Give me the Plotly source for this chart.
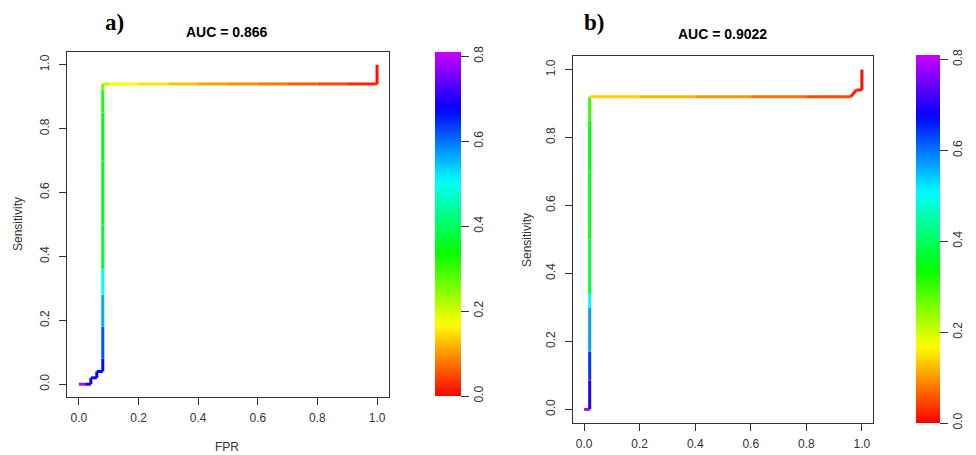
import colorsys
import plotly.graph_objects as go

# ---------------- data ----------------
# panel a) ROC curve: false positive rate, sensitivity, cutoff (colour)
fpr_a = [0.00, 0.02, 0.04, 0.04, 0.06, 0.06, 0.08, 0.08, 0.08, 0.08, 0.08, 0.08, 0.08, 0.08,
         0.08, 0.08, 0.10, 0.20, 0.30, 0.40, 0.50, 0.60, 0.70, 0.80, 0.90, 1.00, 1.00]
tpr_a = [0.00, 0.00, 0.00, 0.02, 0.02, 0.04, 0.04, 0.08, 0.18, 0.28, 0.36, 0.50, 0.70, 0.85,
         0.92, 0.94, 0.94, 0.94, 0.94, 0.94, 0.94, 0.94, 0.94, 0.94, 0.94, 0.94, 1.00]
cut_a = [0.80, 0.70, 0.69, 0.69, 0.68, 0.68, 0.67, 0.62, 0.56, 0.50, 0.37, 0.35, 0.34, 0.32,
         0.26, 0.22, 0.17, 0.15, 0.13, 0.11, 0.095, 0.08, 0.06, 0.045, 0.025, 0.01, 0.00]

# panel b) ROC curve
fpr_b = [0.00, 0.02, 0.02, 0.02, 0.02, 0.02, 0.02, 0.02, 0.02, 0.02, 0.20, 0.40, 0.60, 0.80,
         0.96, 0.98, 1.00, 1.00]
tpr_b = [0.00, 0.00, 0.085, 0.17, 0.30, 0.34, 0.50, 0.70, 0.85, 0.92, 0.92, 0.92, 0.92, 0.92,
         0.92, 0.94, 0.94, 1.00]
cut_b = [0.80, 0.70, 0.64, 0.57, 0.51, 0.38, 0.35, 0.34, 0.30, 0.14, 0.12, 0.10, 0.075, 0.05,
         0.02, 0.015, 0.01, 0.00]

titles = ["AUC = 0.866", "AUC = 0.9022"]
panel_labels = ["a)", "b)"]
tick_vals = [0.0, 0.2, 0.4, 0.6, 0.8, 1.0]
tick_text = ["0.0", "0.2", "0.4", "0.6", "0.8", "1.0"]
cbar_vals = [0.0, 0.2, 0.4, 0.6, 0.8]
cbar_text = ["0.0", "0.2", "0.4", "0.6", "0.8"]
CMAX = 0.81

# ---------------- styling helpers ----------------
HUE_PER_UNIT = 355.0  # degrees of hue per unit cutoff (rainbow palette)


def rainbow(v):
    h = max(0.0, min(v, CMAX)) * HUE_PER_UNIT / 360.0
    r, g, b = colorsys.hsv_to_rgb(h, 1.0, 1.0)
    return f"rgb({int(r*255)},{int(g*255)},{int(b*255)})"


n_stops = 40
colorscale = [[i / (n_stops - 1), rainbow(CMAX * i / (n_stops - 1))] for i in range(n_stops)]

# the page body has an 8px margin: lay the figure out in window pixels minus that offset
OFF = 8
W, H = 976 - OFF, 455 - OFF


def px(x):
    return (x - OFF) / W


def py(y):
    return 1 - (y - OFF) / H


FONT = "Liberation Sans, Arial, sans-serif"
AXC = "#333333"

fig = go.Figure()

panels = [
    dict(fpr=fpr_a, tpr=tpr_a, cut=cut_a, xa="x", ya="y"),
    dict(fpr=fpr_b, tpr=tpr_b, cut=cut_b, xa="x2", ya="y2"),
]

for p in panels:
    f, t, c = p["fpr"], p["tpr"], p["cut"]
    for i in range(len(f) - 1):
        fig.add_trace(go.Scatter(
            x=[f[i], f[i + 1]], y=[t[i], t[i + 1]], mode="lines",
            line=dict(color=rainbow(c[i]), width=3),
            xaxis=p["xa"], yaxis=p["ya"], showlegend=False, hoverinfo="skip"))

# colour bars
cbar_geo = [
    dict(x0=435, top=52, bottom=396, thick=26, xa="x", ya="y"),
    dict(x0=916, top=55, bottom=423, thick=24, xa="x2", ya="y2"),
]
for g in cbar_geo:
    fig.add_trace(go.Scatter(
        x=[None], y=[None], mode="markers", xaxis=g["xa"], yaxis=g["ya"],
        showlegend=False, hoverinfo="skip",
        marker=dict(color=[0.0], cmin=0.0, cmax=CMAX, colorscale=colorscale,
                    showscale=True,
                    colorbar=dict(
                        x=px(g["x0"]), xanchor="left", xpad=0, ypad=0,
                        y=py((g["top"] + g["bottom"]) / 2), yanchor="middle",
                        len=g["bottom"] - g["top"], lenmode="pixels",
                        thickness=g["thick"], thicknessmode="pixels",
                        outlinewidth=0,
                        tickvals=cbar_vals, ticktext=cbar_text,
                        ticks="outside", ticklen=8, tickcolor=AXC,
                        tickangle=-90,
                        tickfont=dict(family=FONT, size=12, color=AXC)))))

axis_common = dict(range=[-0.04, 1.04], tickvals=tick_vals, ticktext=tick_text,
                   ticks="outside", ticklen=7, tickcolor=AXC, tickwidth=1,
                   showline=True, mirror=True, linecolor=AXC, linewidth=1,
                   showgrid=False, zeroline=False, fixedrange=True,
                   tickfont=dict(family=FONT, size=12, color=AXC))

fig.update_layout(
    width=W, height=H,
    margin=dict(l=0, r=0, t=0, b=0),
    paper_bgcolor="white", plot_bgcolor="white",
    xaxis=dict(domain=[px(67), px(389)], anchor="y", **axis_common, ticklabelstandoff=3),
    yaxis=dict(domain=[py(397), py(52)], anchor="x", tickangle=-90, **axis_common,
               ticklabelstandoff=5),
    xaxis2=dict(domain=[px(573), px(873)], anchor="y2", **axis_common, ticklabelstandoff=3),
    yaxis2=dict(domain=[py(423), py(56)], anchor="x2", tickangle=-90, **axis_common,
                ticklabelstandoff=5),
)

ann = []
# titles
for txt, (cx, cy) in zip(titles, [(227, 32), (722, 34)]):
    ann.append(dict(text=f"<b>{txt}</b>", x=px(cx), y=py(cy), xref="paper", yref="paper",
                    showarrow=False, xanchor="center", yanchor="middle",
                    font=dict(family=FONT, size=14, color="black")))
# panel letters
for txt, (cx, cy) in zip(panel_labels, [(114, 22), (594, 22)]):
    ann.append(dict(text=f"<b>{txt}</b>", x=px(cx), y=py(cy), xref="paper", yref="paper",
                    showarrow=False, xanchor="center", yanchor="middle",
                    font=dict(family="Liberation Serif, DejaVu Serif, serif", size=23, color="black")))
# axis titles
ann.append(dict(text="FPR", x=px(227), y=py(447), xref="paper", yref="paper", showarrow=False,
                xanchor="center", yanchor="middle", font=dict(family=FONT, size=12, color=AXC)))
for cx, cy in [(18, 224), (527, 240)]:
    ann.append(dict(text="Sensitivity", x=px(cx), y=py(cy), xref="paper", yref="paper",
                    showarrow=False, textangle=-90, xanchor="center", yanchor="middle",
                    font=dict(family=FONT, size=12, color=AXC)))
fig.update_layout(annotations=ann)

fig.write_html("out.html")
